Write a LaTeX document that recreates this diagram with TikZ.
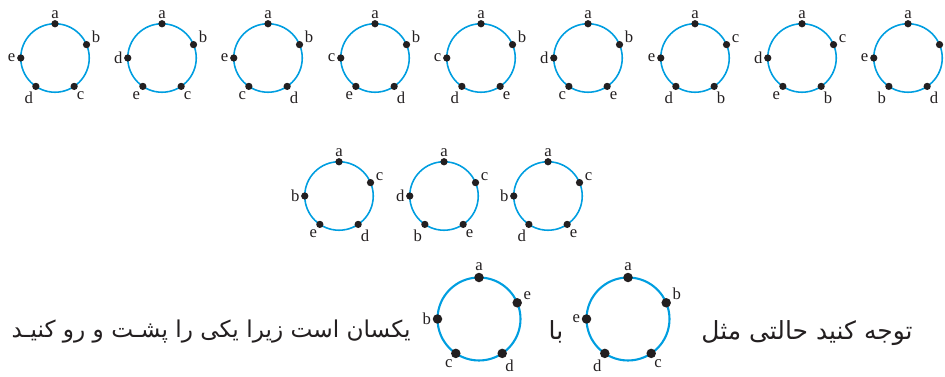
\documentclass[tikz,border=0pt]{standalone}
\usepackage{fontspec}
\setmainfont{Liberation Serif}
\newfontfamily\farsifont[Script=Arabic]{DejaVu Sans}
\TeXXeTstate=1
\usepackage{xcolor}
\definecolor{ringblue}{RGB}{0,158,224}
\definecolor{inkdark}{RGB}{35,31,32}
\usetikzlibrary{positioning}

\tikzset{
    sring/.style={circle, draw=ringblue, line width=0.9pt, minimum size=1.37cm, inner sep=0pt, outer sep=0pt},
    bring/.style={circle, draw=ringblue, line width=1.2pt, minimum size=1.66cm, inner sep=0pt, outer sep=0pt},
    sdot/.style={circle, fill=inkdark, minimum size=0.145cm, inner sep=0pt},
    bdot/.style={circle, fill=inkdark, minimum size=0.19cm, inner sep=0pt},
    lbl/.style={inner sep=0.6pt, text=inkdark, font=\fontsize{9.5}{10}\selectfont},
    fatext/.style={inner sep=0pt, text=inkdark, font=\farsifont\fontsize{13.2}{16}\selectfont}
}

% #1 name, #2 centre, #3 s/b, #4..#7 labels clockwise after a
\newcommand{\pentring}[7]{%
    \node [#3ring] (#1) at (#2) {};
    \node [#3dot, label={[lbl]above:a}] (#1a) at (#1.90) {};
    \node [#3dot, label={[lbl]15:#4}] (#1b) at (#1.23) {};
    \node [#3dot, label={[lbl]-70:#5}] (#1c) at (#1.-56) {};
    \node [#3dot, label={[lbl]-112:#6}] (#1d) at (#1.-124) {};
    \node [#3dot, label={[lbl]left:#7}] (#1e) at (#1.180) {};
}

\begin{document}
\begin{tikzpicture}[x=0.02cm, y=-0.02cm]
    \useasboundingbox (0,0) rectangle (945,377);

    % top row
    \pentring{t1}{55,58}{s}{b}{c}{d}{e}
    \pentring{t2}{162,58}{s}{b}{c}{e}{d}
    \pentring{t3}{268,58}{s}{b}{d}{c}{e}
    \pentring{t4}{375,58}{s}{b}{d}{e}{c}
    \pentring{t5}{481,58}{s}{b}{e}{d}{c}
    \pentring{t6}{588,58}{s}{b}{e}{c}{d}
    \pentring{t7}{695,58}{s}{c}{b}{d}{e}
    \pentring{t8}{802,58}{s}{c}{b}{e}{d}
    \pentring{t9}{908,58}{s}{}{d}{b}{e}

    % middle row
    \pentring{m1}{339,196}{s}{c}{d}{e}{b}
    \pentring{m2}{444,196}{s}{c}{e}{b}{d}
    \pentring{m3}{548,196}{s}{c}{e}{d}{b}

    % bottom row
    \pentring{b1}{479,319}{b}{e}{d}{c}{b}
    \pentring{b2}{628,319}{b}{b}{c}{d}{e}

    \node [fatext, font=\farsifont\fontsize{14.2}{16}\selectfont, anchor=base east] (txtR) at (913,340) {\beginR توجه کنید حالتی مثل\endR};
    \node [fatext, font=\farsifont\fontsize{14.2}{16}\selectfont, anchor=base] (txtBa) at (556,340) {\beginR با\endR};
    \node [fatext, anchor=base east] (txtL) at (411,338) {\beginR یکسان است زیرا یکی را پشـت و رو کنیـد\endR};
\end{tikzpicture}
\end{document}
